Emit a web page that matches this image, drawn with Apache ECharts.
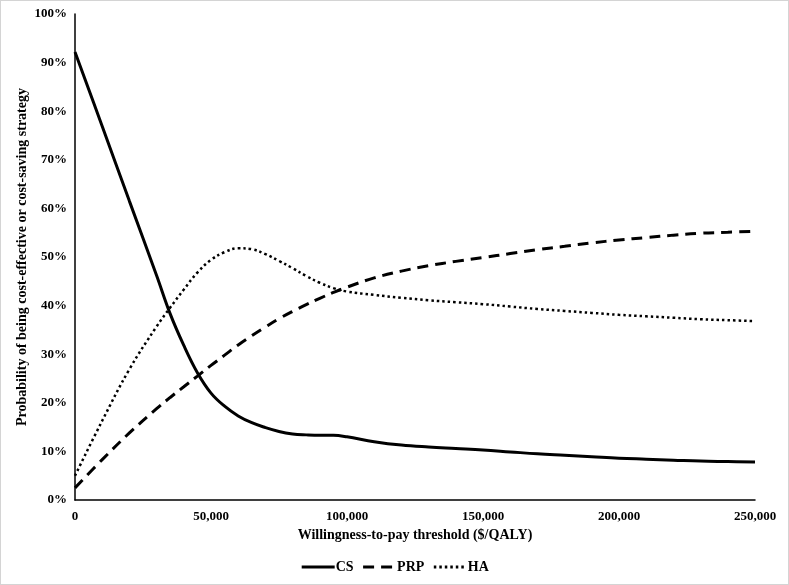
<!DOCTYPE html>
<html>
<head>
    <meta charset="UTF-8">
    <title>WTP acceptability curves</title>
    <script src="https://cdn.jsdelivr.net/npm/echarts@6/dist/echarts.min.js"></script>
    <style>
        html, body { margin: 0; padding: 0; background: #fff; }
        #frame { width: 787px; height: 583px; border: 1px solid #d4d4d4; }
        #chart { width: 787px; height: 583px; }
    </style>
</head>
<body>
<div id="frame"><div id="chart"></div></div>
<script>
    // x: willingness-to-pay threshold ($/QALY)
    var wtp = [0, 10000, 20000, 30000, 35000, 40000, 45000, 50000, 55000, 60000, 65000, 70000, 75000, 80000, 85000, 90000, 95000, 100000,
        110000, 120000, 130000, 140000, 150000, 160000, 170000, 180000, 190000, 200000, 210000, 220000, 230000, 240000, 250000];
    // probability (%)
    var cs  = [92.2, 76.9, 61.5, 46.2, 38.3, 31.8, 26.2, 22.0, 19.3, 17.3, 15.9, 14.9, 14.1, 13.6, 13.4, 13.3, 13.3, 13.0,
        12.0, 11.3, 10.9, 10.6, 10.3, 9.9, 9.5, 9.2, 8.9, 8.6, 8.4, 8.2, 8.0, 7.9, 7.8];
    var prp = [2.5, 8.3, 13.8, 18.8, 21.1, 23.3, 25.5, 27.7, 29.8, 31.9, 33.8, 35.6, 37.3, 38.8, 40.2, 41.5, 42.7, 43.8,
        45.7, 47.1, 48.2, 49.1, 49.9, 50.7, 51.5, 52.2, 52.9, 53.5, 54.0, 54.5, 54.9, 55.1, 55.3];
    var ha  = [5.0, 16.3, 26.9, 35.7, 39.6, 43.3, 46.8, 49.4, 51.0, 51.8, 51.6, 50.6, 49.2, 47.7, 46.1, 44.7, 43.6, 42.9,
        42.2, 41.6, 41.1, 40.7, 40.3, 39.8, 39.3, 38.9, 38.5, 38.1, 37.8, 37.5, 37.2, 37.0, 36.8];
    var names = ['CS', 'PRP', 'HA'];

    function pairs(ys) {
        return wtp.map(function (x, i) { return [x, ys[i]]; });
    }

    var font = '"Liberation Serif", "Times New Roman", serif';
    var myChart = echarts.init(document.getElementById('chart'));

    var option = {
        animation: false,
        textStyle: { fontFamily: font },
        grid: { left: 74, right: 33, top: 13, bottom: 84 },
        legend: {
            data: names,
            bottom: 5,
            left: 'center',
            itemWidth: 33,
            itemHeight: 10,
            itemGap: 8,
            itemStyle: { opacity: 0 },
            lineStyle: { width: 3 },
            textStyle: { fontFamily: font, fontWeight: 'bold', fontSize: 14, color: '#000', padding: [0, 0, 0, -4] }
        },
        xAxis: {
            type: 'value',
            min: 0,
            max: 250000,
            interval: 50000,
            name: 'Willingness-to-pay threshold ($/QALY)',
            nameLocation: 'middle',
            nameGap: 28,
            nameTextStyle: { fontFamily: font, fontWeight: 'bold', fontSize: 14, color: '#000' },
            axisLine: { show: true, lineStyle: { color: '#000', width: 1.5 } },
            axisTick: { show: false },
            splitLine: { show: false },
            axisLabel: {
                margin: 10,
                fontFamily: font, fontWeight: 'bold', fontSize: 13, color: '#000',
                formatter: function (v) { return v.toLocaleString('en-US'); }
            }
        },
        yAxis: {
            type: 'value',
            min: 0,
            max: 100,
            interval: 10,
            name: 'Probability of being cost-effective or cost-saving strategy',
            nameLocation: 'middle',
            nameGap: 46,
            nameMoveOverlap: false,
            nameTextStyle: { fontFamily: font, fontWeight: 'bold', fontSize: 14, color: '#000' },
            axisLine: { show: true, lineStyle: { color: '#000', width: 1.5 } },
            axisTick: { show: false },
            splitLine: { show: false },
            axisLabel: {
                margin: 8,
                fontFamily: font, fontWeight: 'bold', fontSize: 13, color: '#000',
                formatter: '{value}%'
            }
        },
        series: [
            {
                name: 'CS', type: 'line', data: pairs(cs), smooth: 0.4, symbol: 'none',
                itemStyle: { color: '#000' },
                lineStyle: { color: '#000', width: 3 }
            },
            {
                name: 'PRP', type: 'line', data: pairs(prp), smooth: 0.4, symbol: 'none',
                itemStyle: { color: '#000' },
                lineStyle: { color: '#000', width: 3, type: [11, 7] }
            },
            {
                name: 'HA', type: 'line', data: pairs(ha), smooth: 0.4, symbol: 'none',
                itemStyle: { color: '#000' },
                lineStyle: { color: '#000', width: 2.5, type: [2.5, 3] }
            }
        ]
    };
    myChart.setOption(option);
</script>
</body>
</html>
